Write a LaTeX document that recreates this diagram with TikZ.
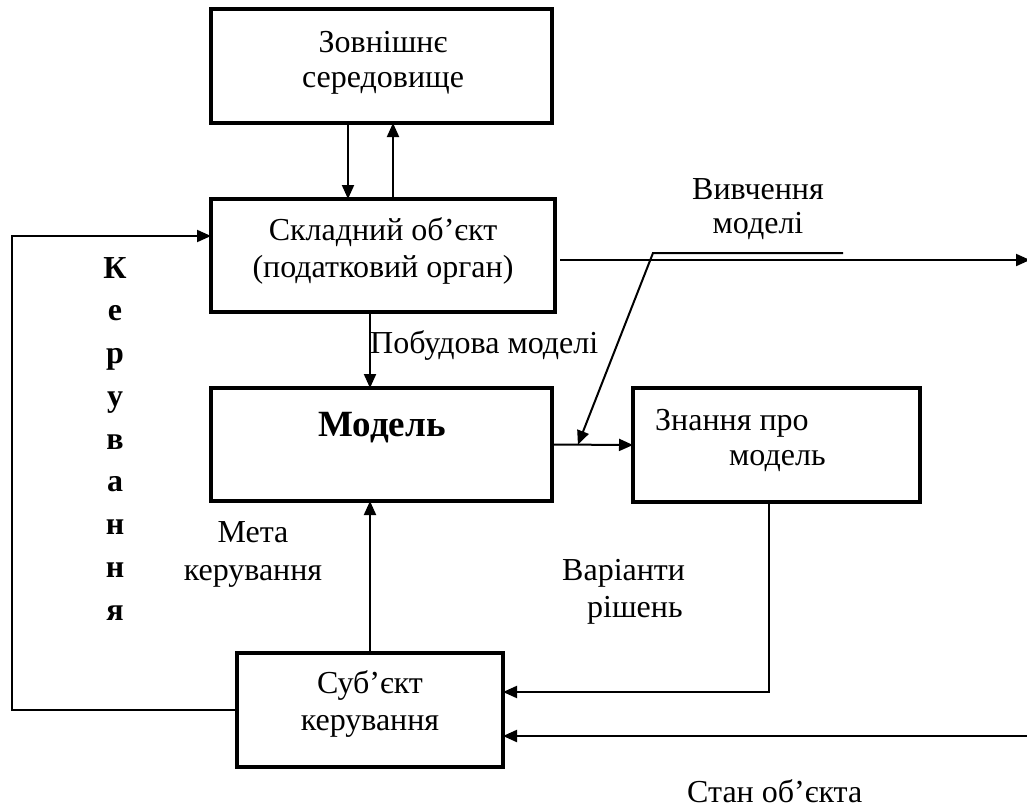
\documentclass[tikz,border=0pt]{standalone}
\usepackage{fontspec}
\setmainfont{Liberation Serif}
\usetikzlibrary{arrows.meta,calc}

\begin{document}
\begin{tikzpicture}[x=1pt,y=-1pt,
  box/.style={draw, line width=3.4pt, inner sep=0pt, outer sep=0pt},
  conn/.style={line width=2pt},
  arr/.style={conn, -{Triangle[length=14pt,width=12pt]}},
  lbl/.style={inner sep=0pt, anchor=base, font=\fontsize{32}{36}\selectfont},
  lblw/.style={lbl, anchor=base west},
  vletter/.style={inner sep=0pt, anchor=base, font=\bfseries\fontsize{32}{36}\selectfont}]

\useasboundingbox (0,0) rectangle (1027,811);

% blocks
\node[box, minimum width=341, minimum height=114] (env)   at (381.5,66)  {};
\node[box, minimum width=344, minimum height=113] (obj)   at (383,255.5) {};
\node[box, minimum width=341, minimum height=113] (model) at (381.5,444.5) {};
\node[box, minimum width=287, minimum height=114] (know)  at (776.5,445) {};
\node[box, minimum width=266, minimum height=114] (subj)  at (370,710)   {};

% block texts
\node[lbl] (envA) at (383,52) {Зовнішнє};
\node[lbl] (envB) at (383,87) {середовище};
\node[lbl] (objA) at (383,240) {Складний об’єкт};
\node[lbl] (objB) at (383,277) {(податковий орган)};
\node[inner sep=0pt, anchor=base, font=\bfseries\fontsize{37}{42}\selectfont] (modelT) at (382,436) {Модель};
\node[lblw] (knowA) at (655,430) {Знання про};
\node[lblw] (knowB) at (729,465) {модель};
\node[lbl] (subjA) at (370,693) {Суб’єкт};
\node[lbl] (subjB) at (370,730) {керування};

% connector labels
\node[lbl] (studyA) at (758,199) {Вивчення};
\node[lbl] (studyB) at (758,233) {моделі};
\node[lblw] (build) at (370,353) {Побудова моделі};
\node[lbl] (goalA) at (253,542) {Мета};
\node[lbl] (goalB) at (253,580) {керування};
\node[lblw] (varA) at (562,580) {Варіанти};
\node[lblw] (varB) at (587,617) {рішень};
\node[lblw] (state) at (687,802) {Стан об’єкта};

% vertical word along the control loop
\foreach \l [count=\i] in {К,е,р,у,в,а,н,н,я}
  \node[vletter] (k\i) at (115,{278+42.75*(\i-1)}) {\l};

% helper coordinates
\coordinate (xa) at (348,0);
\coordinate (xb) at (393,0);
\coordinate (xc) at (370,0);
\coordinate (sOut) at (560,260);
\coordinate (eOut) at (1030,260);
\coordinate (v1) at (843,253);
\coordinate (v2) at (653,253);
\coordinate (r1) at (769,692);
\coordinate (r2) at (1027,736);
\coordinate (l1) at (12,710);
\coordinate (l2) at (12,236);

% connectors
\draw[arr] (env.south -| xa) -- (obj.north -| xa);
\draw[arr] (obj.north -| xb) -- (env.south -| xb);
\draw[arr] (obj.south -| xc) -- (model.north -| xc);
\draw[arr] (subj.north -| xc) -- (model.south -| xc);
\draw[arr] (model.east) -- (know.west);
\draw[arr] (v1) -- (v2) -- ($(model.east)!0.32!(know.west)$);
\draw[arr] (sOut) -- (eOut);
\draw[arr] (know.south -| r1) -- (r1) -- (subj.east |- r1);
\draw[arr] (r2) -- (subj.east |- r2);
\draw[arr] (subj.west |- l1) -- (l1) -- (l2) -- (obj.west |- l2);

\end{tikzpicture}
\end{document}
